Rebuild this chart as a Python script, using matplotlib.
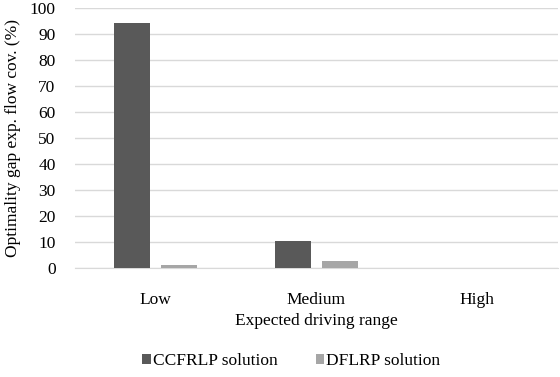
import numpy as np
import matplotlib
matplotlib.use("Agg")
import matplotlib.pyplot as plt

plt.rcParams['font.family'] = ['Liberation Serif', 'DejaVu Serif']

categories = ["Low", "Medium", "High"]
ccfrlp = [94.2, 10.5, 0.0]
dflrp = [1.2, 2.8, 0.0]

fig = plt.figure(figsize=(5.6, 3.77), dpi=100)
ax = fig.add_axes([0.134, 0.289, 0.862, 0.69])

x = np.arange(len(categories))
w = 0.225
gap = 0.07
ax.bar(x - (w + gap) / 2, ccfrlp, w, color="#595959", label="CCFRLP solution", zorder=3)
ax.bar(x + (w + gap) / 2, dflrp, w, color="#a6a6a6", label="DFLRP solution", zorder=3)

ax.set_xlim(-0.5, 2.5)
ax.set_ylim(0, 100)
ax.set_yticks(range(0, 101, 10))
ax.set_xticks(x)
ax.set_xticklabels(categories)
ax.grid(axis='y', color="#d9d9d9", linewidth=1, zorder=0)
for s in ["top", "right", "left"]:
    ax.spines[s].set_visible(False)
ax.spines["bottom"].set_color("#d9d9d9")
ax.tick_params(axis='both', length=0, labelsize=12.5)
ax.tick_params(axis='y', pad=14)
ax.tick_params(axis='x', pad=17)
ax.set_xlabel("Expected driving range", fontsize=12.5, labelpad=4)
ax.set_ylabel("Optimality gap exp. flow cov. (%)", fontsize=12.5, labelpad=6)

fig.legend(loc="lower center", bbox_to_anchor=(0.52, -0.02), ncol=2, frameon=False,
           fontsize=12.5, handlelength=0.5, handleheight=0.5, handletextpad=0.1,
           columnspacing=2.2)

fig.savefig("out.png", dpi=100)
